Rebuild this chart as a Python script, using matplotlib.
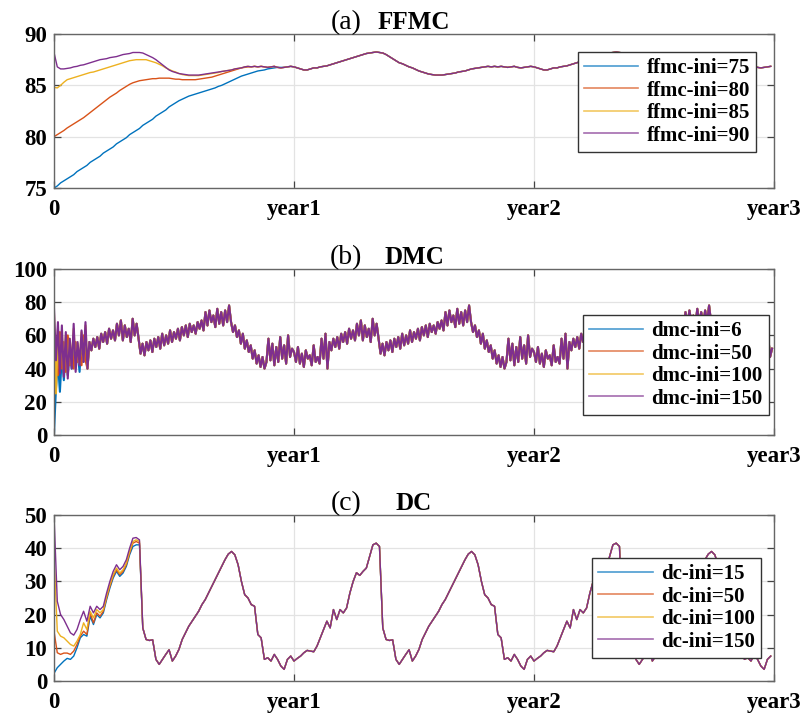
import numpy as np
import matplotlib
matplotlib.use("Agg")
import matplotlib.pyplot as plt

plt.rcParams["font.family"] = ["Liberation Serif", "DejaVu Serif"]

# ===========================
# DATA
# ===========================
# one year of the repeating cycle, 5-day steps (FFMC, DC) / ~3-day steps (DMC)
ffmc_cycle = [86.8, 86.7, 86.6, 86.5, 86.5, 86.6, 86.7, 86.7, 86.8, 86.85,
              86.9, 87.0, 87.1, 87.2, 87.3, 87.4, 87.5, 87.6, 87.7, 87.8,
              87.9, 88.0, 88.1, 88.15, 88.2, 88.25, 88.2, 88.15, 88.0, 87.8,
              87.6, 87.4, 87.2, 87.1, 86.95, 86.8, 86.7, 86.55, 86.4, 86.3,
              86.2, 86.1, 86.05, 86.0, 86.0, 86.0, 86.05, 86.1, 86.15, 86.2,
              86.3, 86.35, 86.4, 86.5, 86.6, 86.65, 86.7, 86.75, 86.8, 86.85,
              86.8, 86.85, 86.8, 86.85, 86.8, 86.75, 86.8, 86.85, 86.75, 86.7,
              86.75, 86.8, 86.85]

# first year of each run, before it joins the cycle
ffmc_75 = [75.0, 75.2, 75.5, 75.7, 75.9, 76.1, 76.3, 76.6, 76.8, 77.0,
           77.2, 77.5, 77.7, 77.9, 78.1, 78.4, 78.6, 78.8, 79.0, 79.3,
           79.5, 79.7, 79.9, 80.2, 80.4, 80.6, 80.8, 81.1, 81.3, 81.5,
           81.7, 82.0, 82.2, 82.4, 82.6, 82.9, 83.1, 83.3, 83.5, 83.65,
           83.8, 83.95, 84.05, 84.15, 84.25, 84.35, 84.45, 84.55, 84.65, 84.75,
           84.9, 85.0, 85.15, 85.3, 85.45, 85.6, 85.75, 85.9, 86.0, 86.1,
           86.2, 86.3, 86.4, 86.45, 86.5, 86.6, 86.65, 86.7, 86.75, 86.75]
ffmc_80 = [80.0, 80.2, 80.4, 80.6, 80.85, 81.05, 81.25, 81.45, 81.65, 81.85,
           82.1, 82.35, 82.6, 82.85, 83.1, 83.35, 83.6, 83.85, 84.05, 84.25,
           84.5, 84.7, 84.9, 85.1, 85.25, 85.35, 85.45, 85.5, 85.55, 85.6,
           85.65, 85.65, 85.7, 85.7, 85.7, 85.7, 85.65, 85.6, 85.6, 85.55,
           85.55, 85.55, 85.55, 85.55, 85.6, 85.65, 85.7, 85.75, 85.8, 85.9,
           86.0, 86.1, 86.2, 86.3, 86.4, 86.5, 86.6, 86.7, 86.75, 86.8,
           86.8]
ffmc_85 = [84.8, 84.75, 85.0, 85.3, 85.55, 85.65, 85.75, 85.85, 85.95, 86.05,
           86.15, 86.25, 86.3, 86.4, 86.5, 86.6, 86.7, 86.8, 86.9, 87.0,
           87.1, 87.2, 87.3, 87.4, 87.45, 87.5, 87.5, 87.5, 87.5, 87.4,
           87.3, 87.2, 87.05, 86.9, 86.7, 86.55, 86.4, 86.3, 86.15, 86.05,
           86.0, 85.95, 85.95, 85.95, 85.95, 86.0, 86.05, 86.1, 86.15, 86.2,
           86.25, 86.35, 86.4, 86.45, 86.5, 86.6, 86.65, 86.7, 86.8, 86.85,
           86.8]
ffmc_90 = [88.2, 86.8, 86.6, 86.6, 86.65, 86.7, 86.8, 86.85, 86.95, 87.0,
           87.1, 87.2, 87.3, 87.4, 87.5, 87.55, 87.6, 87.7, 87.75, 87.8,
           87.9, 88.0, 88.05, 88.1, 88.2, 88.2, 88.2, 88.15, 88.0, 87.85,
           87.7, 87.5, 87.25, 87.0, 86.75, 86.5, 86.35, 86.25, 86.15, 86.1,
           86.05, 86.0, 86.0, 86.0, 86.0, 86.05, 86.1, 86.15, 86.2, 86.25,
           86.3, 86.35, 86.4, 86.45, 86.5, 86.6, 86.65, 86.7, 86.8, 86.85,
           86.8]

dmc_cycle = [50, 44, 53, 43, 49, 41, 51, 46, 48, 42, 54, 44, 47, 43, 58, 46, 61,
             40,
             56, 51, 58, 53, 59, 52, 61, 56, 62, 55, 64, 58, 63, 57, 67,
             60, 69, 57, 66, 59, 64, 56, 70, 60, 67, 58,
             49,
             55, 48, 56, 51, 57, 50,
             58, 53, 59, 52, 61, 54, 60, 55, 63, 56, 62, 58, 64, 57, 65, 60,
             66, 59, 67, 62, 66, 61, 68, 64, 69, 63,
             74, 66, 75, 68, 72, 65, 76, 67, 74, 66, 75, 68, 78,
             68, 62, 66, 59, 63, 55, 61, 52, 57, 50, 54, 46, 51,
             43, 48, 41, 47, 40, 44,
             58, 45, 55, 42, 53, 44, 59, 46, 54, 43, 60, 47, 52]
dmc_6 = [1, 28, 44, 26, 48, 33, 52, 36, 50, 40, 55, 42, 50, 38, 58, 44, 60]
dmc_50 = [40, 58, 36, 62, 40, 56, 38, 60, 42, 52, 40, 56, 44, 48, 42, 60, 45]
dmc_100 = [73, 25, 64, 40, 62, 38, 60, 36, 58, 42, 64, 40, 55, 43, 62, 45, 66]
dmc_150 = [76, 45, 68, 37, 66, 35, 62, 34, 58, 40, 67, 38, 56, 42, 63, 44, 68]

dc_cycle = [6.0, 6.8, 7.5, 8.5, 9.2, 9.0, 8.8, 10.5, 13.0, 15.5,
            18.0, 16.0, 21.5, 18.5, 21.5, 20.5, 22.0, 26.5, 30.0, 32.6,
            31.8, 33.0, 34.0, 37.5, 41.0, 41.5, 40.5, 16.0, 12.5, 12.2,
            12.4, 6.5, 5.0, 6.5, 8.0, 9.4, 6.0, 7.5, 9.5, 12.5,
            14.5, 16.5, 18.0, 19.5, 21.0, 23.0, 24.5, 26.5, 28.5, 30.5,
            32.5, 34.5, 36.5, 38.2, 39.0, 38.0, 35.0, 30.0, 26.0, 25.0,
            23.0, 22.5, 14.0, 13.0, 6.5, 7.0, 6.0, 8.0, 6.5, 4.5,
            3.5, 6.5, 7.5]
dc_15 = [2.3, 4, 5, 6, 6.8, 6.5, 7.5, 10, 13, 14, 13.5, 19.5, 17, 20, 19,
         20.5, 24.5, 28, 31, 33, 31.5, 32.5, 34.5, 38, 40.5, 41, 41]
dc_50 = [15, 8.5, 8, 8.4, 8.4, 8, 9, 11, 13.5, 15, 14, 20.5, 17.5, 20.5, 19.5,
         21, 25, 28.5, 31.5, 33.5, 32, 33, 35, 38.5, 41.5, 42, 41.5]
dc_100 = [38, 15, 13.5, 13, 12, 11, 10.5, 12, 14, 17.5, 15.5, 21, 19, 21.5, 20.5,
          21.5, 25.5, 29, 32, 34, 32.5, 33.5, 35.5, 39, 42, 42.5, 42]
dc_150 = [50, 24, 20, 18.5, 16.5, 14.5, 13.8, 15.5, 18.5, 21, 18, 22.5, 20.5,
          22.5, 21.5, 22.5, 26.5, 30, 33, 35, 33.5, 34.5, 36.5, 40, 43, 43.2, 42.5]

xtick_labels = ["0", "year1", "year2", "year3"]
colors = ["#0072BD", "#D95319", "#EDB120", "#7E2F8E"]


def build(head, cycle):
    # first year starts from the run's own head, then follows the cycle
    y = np.array(head + cycle[len(head):] + cycle + cycle, dtype=float)
    x = np.arange(len(y)) / len(cycle)
    return x, y


panels = [
    ("(a)", "FFMC", ffmc_cycle, [ffmc_75, ffmc_80, ffmc_85, ffmc_90],
     ["ffmc-ini=75", "ffmc-ini=80", "ffmc-ini=85", "ffmc-ini=90"],
     (75, 90), [75, 80, 85, 90], [0.067, 0.7385, 0.8933, 0.2142], (0.975, 0.883), 1.0),
    ("(b)", "DMC", dmc_cycle, [dmc_6, dmc_50, dmc_100, dmc_150],
     ["dmc-ini=6", "dmc-ini=50", "dmc-ini=100", "dmc-ini=150"],
     (0, 100), [0, 20, 40, 60, 80, 100], [0.067, 0.395, 0.8933, 0.2309], (0.993, 0.723), 1.5),
    ("(c)", "DC", dc_cycle, [dc_15, dc_50, dc_100, dc_150],
     ["dc-ini=15", "dc-ini=50", "dc-ini=100", "dc-ini=150"],
     (0, 50), [0, 10, 20, 30, 40, 50], [0.067, 0.0529, 0.8933, 0.2309], (0.982, 0.741), 1.0),
]

fig = plt.figure(figsize=(8.06, 7.19), dpi=100)

for tag, name, cycle, heads, labels, ylim, yticks, pos, leg_at, lw in panels:
    ax = fig.add_axes(pos)

    for head, label, c in zip(heads, labels, colors):
        x, y = build(head, cycle)
        ax.plot(x, y, color=c, lw=lw, label=label)

    ax.set_xlim(0, 3)
    ax.set_ylim(*ylim)
    ax.set_xticks([0, 1, 2, 3])
    ax.set_xticklabels(xtick_labels)
    ax.set_yticks(yticks)
    ax.grid(True, color="#e3e3e3", lw=0.9)
    ax.set_axisbelow(True)

    ax.tick_params(direction="in", length=5, width=0.9, color="#444444",
                   top=True, right=True, labelsize=16.5)
    ax.tick_params(axis="x", pad=8)
    ax.tick_params(axis="y", pad=5)
    for lab in ax.get_xticklabels() + ax.get_yticklabels():
        lab.set_fontweight("bold")
    for sp in ax.spines.values():
        sp.set_color("#666666")
        sp.set_linewidth(1.0)

    ax.text(0.5, 1.03, name, transform=ax.transAxes, ha="center",
            va="baseline", fontsize=18, fontweight="bold")
    ax.text(0.4056, 1.03, tag, transform=ax.transAxes, ha="center",
            va="baseline", fontsize=20)

    leg = ax.legend(loc="upper right", bbox_to_anchor=leg_at, fancybox=False,
                    framealpha=1, edgecolor="#333333", handlelength=2.6,
                    borderpad=0.3, labelspacing=0.12, handletextpad=0.4,
                    borderaxespad=0,
                    prop={"size": 15, "weight": "bold"})
    leg.get_frame().set_linewidth(1.0)
    for line in leg.get_lines():
        line.set_alpha(0.7)
        line.set_linewidth(1.2)

fig.savefig("out.png", dpi=100)
